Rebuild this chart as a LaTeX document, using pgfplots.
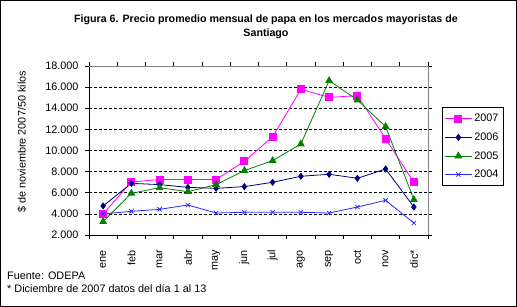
\documentclass[border=0pt]{standalone}
\usepackage{pgfplots}
\pgfplotsset{compat=1.18}
\usepackage{fontspec}
\setmainfont{Liberation Sans}
\definecolor{navy}{RGB}{0,0,128}
\definecolor{dgreen}{RGB}{0,128,0}
\definecolor{pinkm}{RGB}{255,0,255}
\definecolor{blue4}{RGB}{40,40,255}
\newcommand{\fs}{\fontsize{10.9}{13}\selectfont}
\begin{document}
\begin{tikzpicture}
\useasboundingbox (0bp,0bp) rectangle (517bp,307bp);
\draw[line width=1bp] (0.5bp,0.5bp) rectangle (516.5bp,306.5bp);
\node[font=\bfseries\fontsize{10.7}{13.5}\selectfont, align=center, anchor=north, inner sep=0pt] at (266bp,292bp) {Figura 6. Precio promedio mensual de papa en los mercados mayoristas de\\Santiago};
\node[rotate=90, font=\fs, inner sep=0pt] at (22bp,165bp) {\$ de noviembre 2007/50 kilos};
\node[anchor=base west, font=\fs, inner sep=0pt] at (7bp,28bp) {Fuente: ODEPA};
\node[anchor=base west, font=\fs, inner sep=0pt] at (7bp,15bp) {* Diciembre de 2007 datos del día 1 al 13};
\begin{axis}[
  at={(89bp,72bp)}, anchor=south west,
  scale only axis, width=339bp, height=169bp,
  xmin=-0.5, xmax=11.5, ymin=2000, ymax=18000,
  clip=false,
  xtick={0,...,11},
  xticklabels={ene,feb,mar,abr,may,jun,jul,ago,sep,oct,nov,dic*},
  minor xtick={-0.5,0.5,...,11.5},
  ytick={2000,4000,...,18000},
  tick align=outside,
  major tick length=3.5bp, minor tick length=4bp,
  major x tick style={draw=none},
  every tick/.style={black, line width=0.7bp},
  x tick label style={rotate=90, anchor=east, font=\fs, xshift=-8bp},
  y tick label style={font=\fs, xshift=-3.5bp},
  scaled y ticks=false,
  yticklabel style={/pgf/number format/.cd, fixed, precision=0, 1000 sep={.}, assume math mode=true},
  ymajorgrids,
  major grid style={black, line width=0.7bp, dash pattern=on 3bp off 2bp},
  axis line style={draw=none},
  legend style={at={(1.04,0.755)}, anchor=north west, draw=black, line width=0.8bp,
    font=\fs, row sep=5.5bp, inner xsep=2.5bp, inner ysep=4.5bp},
  legend cell align=left,
  legend image code/.code={\draw[mark repeat=2,mark phase=2,#1] plot coordinates {(0bp,0bp) (13.5bp,0bp) (27bp,0bp)};},
]
\addplot[pinkm, line width=0.8bp, mark=square*, mark size=3.5bp, mark options={solid, fill=pinkm}] coordinates {
(0,3990) (1,7020) (2,7250) (3,7250) (4,7260) (5,8970) (6,11300) (7,15790) (8,15030) (9,15190) (10,11120) (11,6990)};
\addlegendentry{2007}
\addplot[navy, line width=0.8bp, mark=diamond*, mark size=3bp, mark options={solid, fill=navy}] coordinates {
(0,4750) (1,6890) (2,6770) (3,6510) (4,6420) (5,6580) (6,6990) (7,7560) (8,7750) (9,7370) (10,8250) (11,4650)};
\addlegendentry{2006}
\addplot[dgreen, line width=0.8bp, mark=triangle*, mark size=3.8bp, mark options={solid, fill=dgreen}] coordinates {
(0,3260) (1,5950) (2,6480) (3,6100) (4,6770) (5,8100) (6,9040) (7,10620) (8,16610) (9,14780) (10,12260) (11,5350)};
\addlegendentry{2005}
\addplot[blue4, line width=0.8bp, mark=x, mark size=3bp, mark options={solid}] coordinates {
(0,3990) (1,4240) (2,4430) (3,4840) (4,4080) (5,4150) (6,4150) (7,4150) (8,4080) (9,4650) (10,5280) (11,3140)};
\addlegendentry{2004}
\draw[black, line width=0.8bp] (rel axis cs:0,1) -- (rel axis cs:0,0) -- (rel axis cs:1,0);
\draw[gray, line width=0.8bp] (rel axis cs:0,1) -- (rel axis cs:1,1) -- (rel axis cs:1,0);
\end{axis}
\end{tikzpicture}
\end{document}
